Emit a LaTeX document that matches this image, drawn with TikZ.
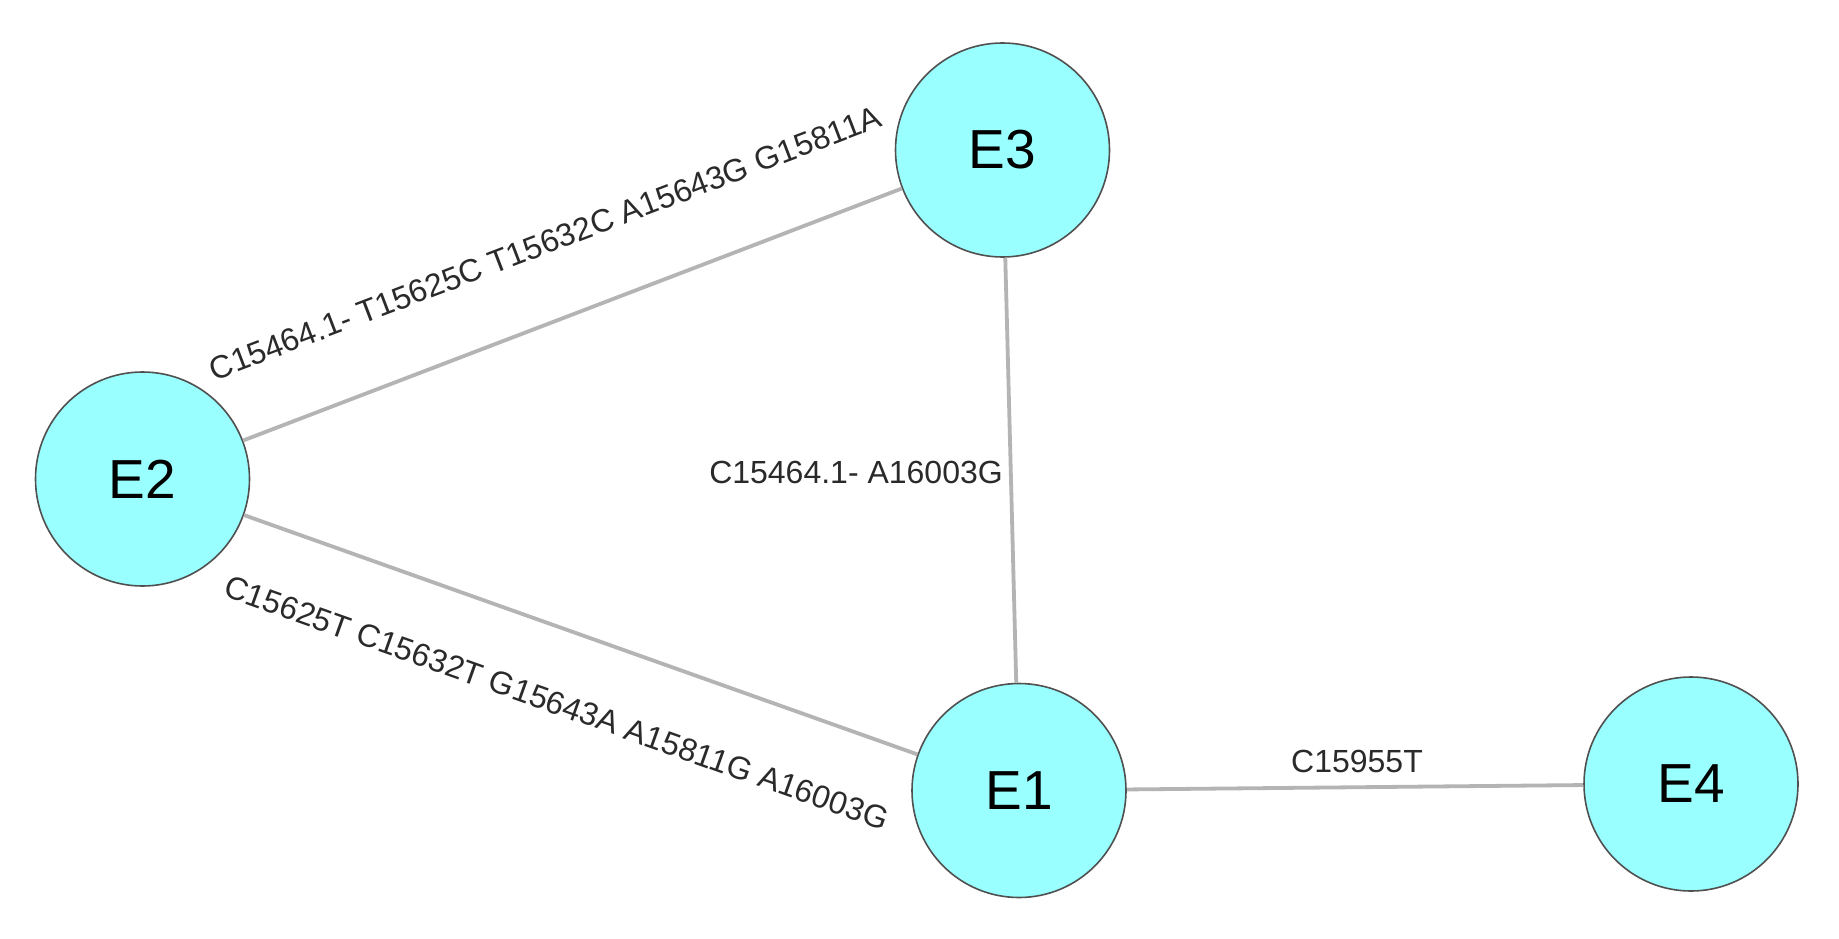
\documentclass[tikz,border=0pt]{standalone}
\usepackage{fontspec}
\setmainfont{Liberation Sans}
\definecolor{nodefill}{HTML}{99FFFF}
\definecolor{nodeline}{HTML}{505050}
\definecolor{edgecol}{HTML}{B4B4B4}
\definecolor{labcol}{HTML}{2A2A2A}
\begin{document}
\begin{tikzpicture}[x=1pt,y=-1pt,
  vertex/.style={circle, draw=nodeline, line width=1.6pt, fill=nodefill,
    minimum size=214pt, inner sep=0pt, font=\fontsize{55}{60}\selectfont, text=black},
  edge/.style={draw=edgecol, line width=3.8pt},
  lab/.style={inner sep=0pt, font=\fontsize{32}{36}\selectfont, text=labcol}]
\useasboundingbox (0,0) rectangle (1839,939);
\fill[white] (0,0) rectangle (1839,939);
\node[vertex] (E2) at (142.5,479) {E2};
\node[vertex] (E3) at (1002.5,150) {E3};
\node[vertex] (E1) at (1019,790.5) {E1};
\node[vertex] (E4) at (1691,784) {E4};
\draw[edge] (E2) -- (E3);
\draw[edge] (E2) -- (E1);
\draw[edge] (E3) -- (E1);
\draw[edge] (E1) -- (E4);
\node[lab, rotate=20.9] (l23) at (545.2,243) {C15464.1- T15625C T15632C A15643G G15811A};
\node[lab, rotate=-19.56] (l21) at (556.5,702.9) {C15625T C15632T G15643A A15811G A16003G};
\node[lab, anchor=east] (l31) at (1003,472) {C15464.1- A16003G};
\node[lab] (l14) at (1357,761) {C15955T};
\end{tikzpicture}
\end{document}
